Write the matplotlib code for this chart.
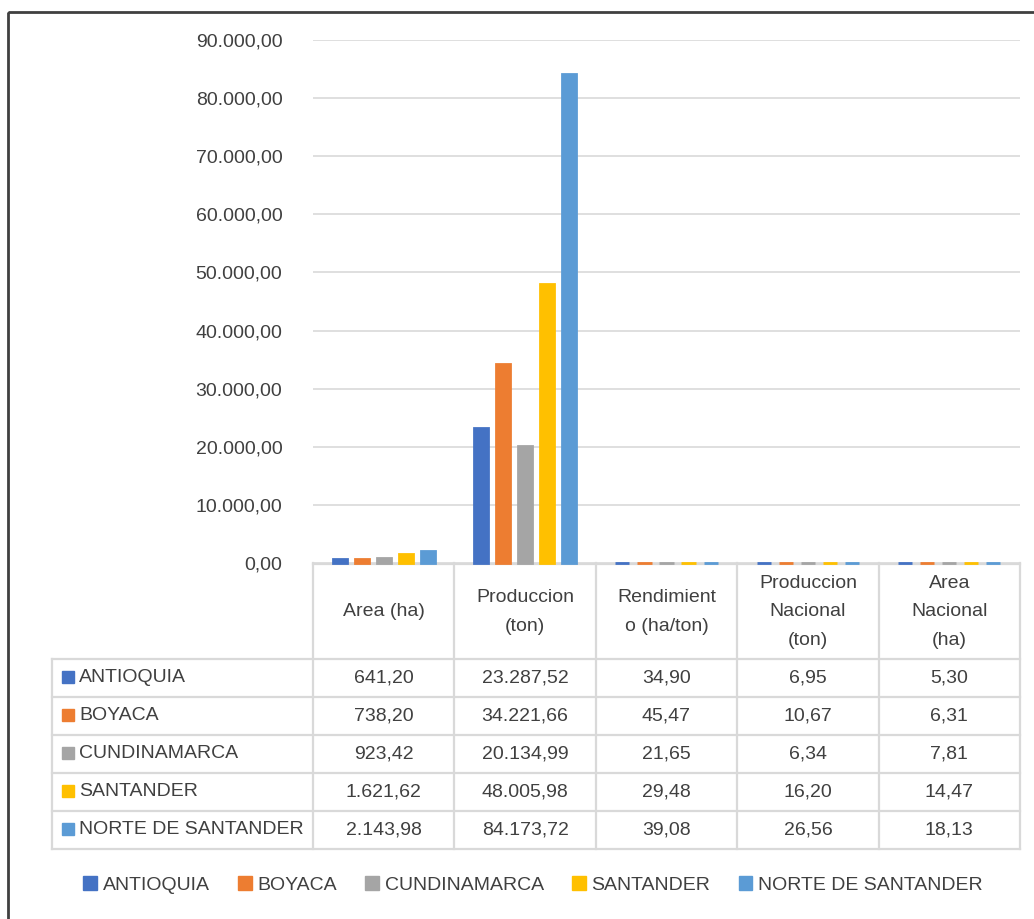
import matplotlib.pyplot as plt
from matplotlib.patches import Patch, Rectangle
import numpy as np

series = ['ANTIOQUIA', 'BOYACA', 'CUNDINAMARCA', 'SANTANDER', 'NORTE DE SANTANDER']
categories = ['Area (ha)', 'Produccion\n(ton)', 'Rendimient\no (ha/ton)',
              'Produccion\nNacional\n(ton)', 'Area\nNacional\n(ha)']
antioquia = [641.20, 23287.52, 34.90, 6.95, 5.30]
boyaca = [738.20, 34221.66, 45.47, 10.67, 6.31]
cundinamarca = [923.42, 20134.99, 21.65, 6.34, 7.81]
santander = [1621.62, 48005.98, 29.48, 16.20, 14.47]
norte = [2143.98, 84173.72, 39.08, 26.56, 18.13]
values = [antioquia, boyaca, cundinamarca, santander, norte]
yticks = np.arange(0, 90001, 10000)

colors = ['#4472C4', '#ED7D31', '#A5A5A5', '#FFC000', '#5B9BD5']
txt = '#404040'
grid = '#d9d9d9'

plt.rcParams['font.family'] = ['Liberation Sans', 'DejaVu Sans']
plt.rcParams['font.size'] = 14


def fmt(v):
    s = f"{v:,.2f}"
    return s.replace(',', 'X').replace('.', ',').replace('X', '.')


W, H = 1034, 919
fig = plt.figure(figsize=(W / 100, H / 100), dpi=100)


def box(x0, y0, x1, y1):
    return [x0 / W, 1 - y1 / H, (x1 - x0) / W, (y1 - y0) / H]


L, R, T, B = 313, 1020, 40, 563

# overlay in pixel coords for the table and frame
ov = fig.add_axes([0, 0, 1, 1], zorder=0)
ov.set_xlim(0, W)
ov.set_ylim(H, 0)
ov.axis('off')

ax = fig.add_axes(box(L, T, R, B), zorder=1)
ax.patch.set_visible(False)
x = np.arange(len(categories))
step, bw = 0.156, 0.10
for i, (name, vals) in enumerate(zip(series, values)):
    ax.bar(x + (i - 2) * step, vals, bw, color=colors[i], ec=colors[i],
           lw=2, label=name, zorder=3, clip_on=False)
ax.set_xlim(-0.5, len(categories) - 0.5)
ax.set_ylim(0, 90000)
ax.set_yticks(yticks)
ax.set_yticklabels([fmt(v) for v in yticks], color=txt)
ax.tick_params(axis='y', length=0, pad=22)
ax.set_xticks([])
ax.grid(axis='y', color=grid, lw=1.2, zorder=0)
for s in ax.spines.values():
    s.set_visible(False)

# data table
colw = (R - L) / len(categories)
edges = [L + k * colw for k in range(len(categories) + 1)]
hdr_bottom = 659
rowh = 38
rows_y = [hdr_bottom + k * rowh for k in range(len(series) + 1)]
lk = dict(color=grid, lw=1.6)
ov.plot([L, R], [B + 1, B + 1], **lk)
for y in rows_y:
    ov.plot([52, R], [y, y], **lk)
ov.plot([52, 52], [hdr_bottom, rows_y[-1]], **lk)
for e in edges:
    ov.plot([e, e], [B, rows_y[-1]], **lk)

for j, cat in enumerate(categories):
    cx = (edges[j] + edges[j + 1]) / 2
    ov.text(cx, (B + hdr_bottom) / 2 + 1, cat, ha='center', va='center',
            color=txt, linespacing=1.85)
for i, (name, vals) in enumerate(zip(series, values)):
    cy = rows_y[i] + rowh / 2
    ov.add_patch(Rectangle((62, cy - 7), 12, 12, color=colors[i]))
    ov.text(79, cy, name, ha='left', va='center', color=txt)
    for j, v in enumerate(vals):
        cx = (edges[j] + edges[j + 1]) / 2
        ov.text(cx, cy, fmt(v), ha='center', va='center', color=txt)

# outer frame
ov.add_patch(Rectangle((8, 12), 1040, 920, fill=False, ec='#404040', lw=2))

handles = [Patch(color=c, label=s) for c, s in zip(colors, series)]
fig.legend(handles=handles, loc='center', ncol=5, frameon=False,
           bbox_to_anchor=(533 / W, 1 - 885 / H), handlelength=0.7,
           handleheight=0.7, handletextpad=0.3, columnspacing=1.45,
           labelcolor=txt)

fig.savefig('out.png', dpi=100)
